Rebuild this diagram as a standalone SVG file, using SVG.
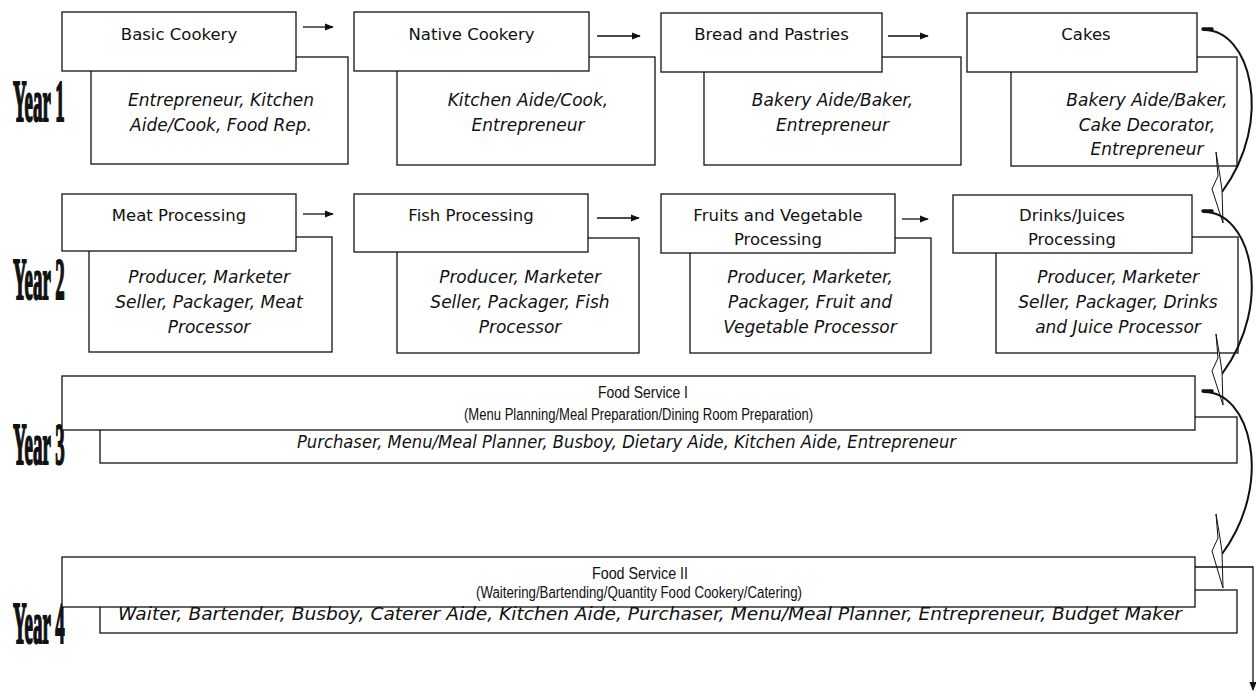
<svg xmlns="http://www.w3.org/2000/svg" width="1256" height="700" viewBox="0 0 1256 700">
<defs>
<style>
.box{fill:#fff;stroke:#111;stroke-width:1.3}
.t{font-family:"DejaVu Sans","Verdana",sans-serif;font-size:16.5px;fill:#111;text-anchor:middle}
.t2{font-family:"Liberation Sans","Arial",sans-serif;font-size:16px;fill:#111;text-anchor:middle}
.d{font-family:"DejaVu Sans","Verdana",sans-serif;font-size:17px;font-style:italic;fill:#111;text-anchor:middle}
.yr{font-family:"Liberation Serif","Times New Roman",serif;font-weight:bold;font-size:60px;fill:#111;stroke:#111;stroke-width:1.6}
.ln{fill:none;stroke:#111;stroke-width:1.3}
.cv{fill:none;stroke:#111;stroke-width:2}
.ah{fill:#fff;stroke:#111;stroke-width:1}
</style>
<marker id="arr" viewBox="0 0 10 10" refX="9" refY="5" markerWidth="9" markerHeight="9" markerUnits="userSpaceOnUse" orient="auto">
<path d="M0,1 L10,5 L0,9 Z" fill="#111"/>
</marker>
</defs>

<g id="year-labels">
<text class="yr" transform="translate(13,121) scale(0.315,1)" vector-effect="non-scaling-stroke">Year 1</text>
<text class="yr" transform="translate(13,299) scale(0.315,1)" vector-effect="non-scaling-stroke">Year 2</text>
<text class="yr" transform="translate(13,464) scale(0.315,1)" vector-effect="non-scaling-stroke">Year 3</text>
<text class="yr" transform="translate(13,643) scale(0.315,1)" vector-effect="non-scaling-stroke">Year 4</text>
</g>

<g id="basic-cookery">
<rect class="box" x="91" y="57" width="257" height="107"/>
<rect class="box" x="62" y="12" width="234" height="59"/>
<text class="t" x="179" y="40">Basic Cookery</text>
<text class="d" x="221" y="106">Entrepreneur, Kitchen</text>
<text class="d" x="221" y="130.5">Aide/Cook, Food Rep.</text>
</g>

<g id="native-cookery">
<rect class="box" x="397" y="57" width="258" height="108"/>
<rect class="box" x="354" y="12" width="235" height="59"/>
<text class="t" x="471.5" y="40">Native Cookery</text>
<text class="d" x="528" y="106">Kitchen Aide/Cook,</text>
<text class="d" x="528" y="130.5">Entrepreneur</text>
</g>

<g id="bread-pastries">
<rect class="box" x="704" y="57" width="257" height="108"/>
<rect class="box" x="661" y="13" width="221" height="59"/>
<text class="t" x="771.5" y="40">Bread and Pastries</text>
<text class="d" x="832.5" y="106">Bakery Aide/Baker,</text>
<text class="d" x="832.5" y="130.5">Entrepreneur</text>
</g>

<g id="cakes">
<rect class="box" x="1011" y="57" width="226" height="109"/>
<rect class="box" x="967" y="13" width="230" height="59"/>
<text class="t" x="1086" y="40">Cakes</text>
<text class="d" x="1147" y="106">Bakery Aide/Baker,</text>
<text class="d" x="1147" y="130.5">Cake Decorator,</text>
<text class="d" x="1147" y="155">Entrepreneur</text>
</g>

<g id="meat-processing">
<rect class="box" x="89" y="237" width="243" height="115"/>
<rect class="box" x="62" y="194" width="234" height="57"/>
<text class="t" x="179" y="221">Meat Processing</text>
<text class="d" x="209" y="283">Producer, Marketer</text>
<text class="d" x="209" y="308">Seller, Packager, Meat</text>
<text class="d" x="209" y="333">Processor</text>
</g>

<g id="fish-processing">
<rect class="box" x="397" y="238" width="242" height="115"/>
<rect class="box" x="354" y="194" width="234" height="58"/>
<text class="t" x="471" y="221">Fish Processing</text>
<text class="d" x="520" y="283">Producer, Marketer</text>
<text class="d" x="520" y="308">Seller, Packager, Fish</text>
<text class="d" x="520" y="333">Processor</text>
</g>

<g id="fruits-vegetable-processing">
<rect class="box" x="690" y="238" width="241" height="115"/>
<rect class="box" x="661" y="194" width="234" height="59"/>
<text class="t" x="778" y="221">Fruits and Vegetable</text>
<text class="t" x="778" y="245">Processing</text>
<text class="d" x="810" y="283">Producer, Marketer,</text>
<text class="d" x="810" y="308">Packager, Fruit and</text>
<text class="d" x="810" y="333">Vegetable Processor</text>
</g>

<g id="drinks-juices-processing">
<rect class="box" x="996" y="237" width="242" height="116"/>
<rect class="box" x="953" y="195" width="239" height="58"/>
<text class="t" x="1072" y="221">Drinks/Juices</text>
<text class="t" x="1072" y="245">Processing</text>
<text class="d" x="1118" y="283">Producer, Marketer</text>
<text class="d" x="1118" y="308">Seller, Packager, Drinks</text>
<text class="d" x="1118" y="333">and Juice Processor</text>
</g>

<g id="food-service-1">
<rect class="box" x="100" y="417" width="1137" height="46"/>
<rect class="box" x="62" y="376" width="1133" height="54"/>
<text class="t2" x="643" y="398" textLength="90" lengthAdjust="spacingAndGlyphs">Food Service I</text>
<text class="t2" x="638.5" y="420" textLength="349" lengthAdjust="spacingAndGlyphs">(Menu Planning/Meal Preparation/Dining Room Preparation)</text>
<text class="d" x="626.5" y="448" textLength="659" lengthAdjust="spacingAndGlyphs">Purchaser, Menu/Meal Planner, Busboy, Dietary Aide, Kitchen Aide, Entrepreneur</text>
</g>

<g id="food-service-2">
<rect class="box" x="100" y="590" width="1137" height="43"/>
<rect class="box" x="62" y="557" width="1133" height="50"/>
<text class="t2" x="640" y="579" textLength="96" lengthAdjust="spacingAndGlyphs">Food Service II</text>
<text class="t2" x="639" y="598" textLength="326" lengthAdjust="spacingAndGlyphs">(Waitering/Bartending/Quantity Food Cookery/Catering)</text>
<text class="d" x="650" y="620" textLength="1064" lengthAdjust="spacingAndGlyphs">Waiter, Bartender, Busboy, Caterer Aide, Kitchen Aide, Purchaser, Menu/Meal Planner, Entrepreneur, Budget Maker</text>
</g>

<g id="connectors">
<line class="ln" x1="303" y1="27" x2="333" y2="27" marker-end="url(#arr)"/>
<line class="ln" x1="597" y1="36" x2="640" y2="36" marker-end="url(#arr)"/>
<line class="ln" x1="888" y1="36" x2="928" y2="36" marker-end="url(#arr)"/>
<line class="ln" x1="303" y1="214" x2="333" y2="214" marker-end="url(#arr)"/>
<line class="ln" x1="597" y1="218" x2="639" y2="218" marker-end="url(#arr)"/>
<line class="ln" x1="902" y1="219" x2="928" y2="219" marker-end="url(#arr)"/>

<path class="cv" d="M1203,30 C1250,28 1275,120 1222,192"/>
<path d="M1203,29 L1212,29" stroke="#111" stroke-width="3.5" stroke-linecap="round"/>
<path class="ah" d="M1216,152 L1218,176 L1212,189 L1223,223 L1222,190 L1220,176 Z"/>

<path class="cv" d="M1203,212 C1250,210 1275,302 1222,374"/>
<path d="M1203,211 L1212,211" stroke="#111" stroke-width="3.5" stroke-linecap="round"/>
<path class="ah" d="M1216,334 L1218,358 L1212,371 L1223,405 L1222,372 L1220,358 Z"/>

<path class="cv" d="M1203,392 C1250,390 1275,482 1222,554"/>
<path d="M1203,391 L1212,391" stroke="#111" stroke-width="3.5" stroke-linecap="round"/>
<path class="ah" d="M1216,514 L1218,538 L1212,551 L1223,588 L1222,552 L1220,538 Z"/>

<path class="ln" d="M1195,567 L1253,567 L1253,690" marker-end="url(#arr)"/>
</g>
</svg>
